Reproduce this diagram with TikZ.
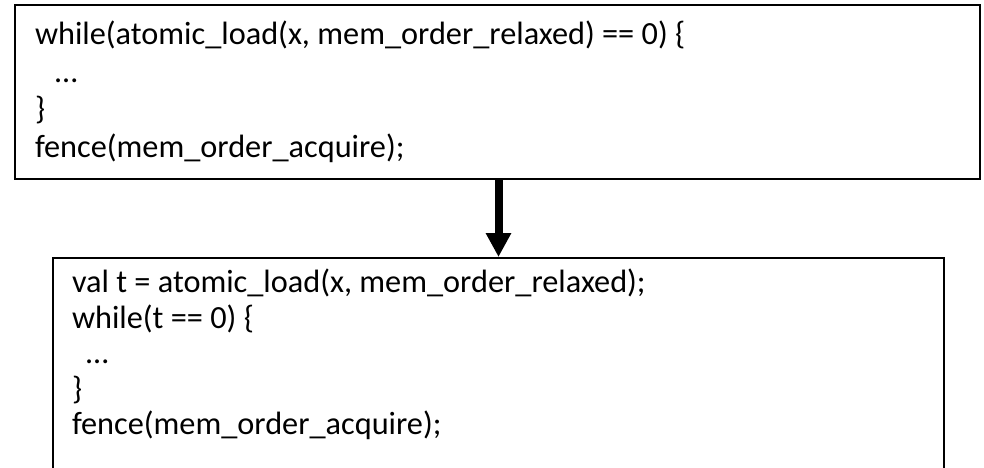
\documentclass[tikz,border=0pt]{standalone}
\usepackage{fontspec}
\setmainfont{Carlito}
\usetikzlibrary{arrows.meta,positioning}

% #1 width, #2 height, #3 vertical position, #4 code lines
\newcommand{\codelines}[4]{\parbox[c][#2][#3]{#1}{\raggedright #4}}

\begin{document}
\begin{tikzpicture}[x=1pt, y=-1pt,
    codebox/.style={draw, line width=2pt, anchor=north west,
                    inner xsep=20pt, inner ysep=0pt,
                    font=\fontsize{32.3}{37.5}\selectfont},
    flow/.style={line width=8pt, -{Triangle[width=24pt, length=24pt]}},
  ]
  \useasboundingbox (0,0) rectangle (984,467);
  \clip (0,0) rectangle (984,467);

  % spin loop on the relaxed load
  \node[codebox] (spin) at (14,4)
    {\codelines{925pt}{174pt}{c}{%
      while(atomic\_load(x, mem\_order\_relaxed) == 0) \{\\
      \hspace*{20pt}…\\
      \}\\
      fence(mem\_order\_acquire);}};

  % load hoisted out of the loop, box runs off the page
  \node[codebox, inner xsep=19pt, inner ysep=11pt,
        font=\fontsize{32.3}{35.5}\selectfont] (hoisted) at (52,257)
    {\codelines{853pt}{210pt}{t}{%
      val t = atomic\_load(x, mem\_order\_relaxed);\\
      while(t == 0) \{\\
      \hspace*{14pt}…\\
      \}\\
      fence(mem\_order\_acquire);}};

  \draw[flow] (hoisted.north |- spin.south) -- (hoisted.north);
\end{tikzpicture}
\end{document}
